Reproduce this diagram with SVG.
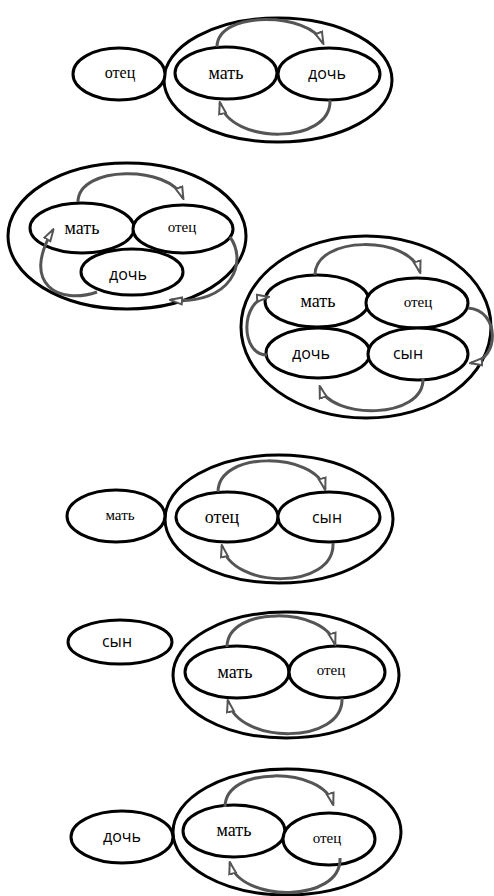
<svg xmlns="http://www.w3.org/2000/svg" width="494" height="896" viewBox="0 0 494 896">
  <style>
    .node { fill: #fff; stroke: #000; stroke-width: 3; }
    .group { fill: none; stroke: #000; stroke-width: 3; }
    .arrow { fill: none; stroke: #555; stroke-width: 3; marker-end: url(#head); }
    .serif { font-family: "Liberation Serif", "Times New Roman", serif; fill: #000; text-anchor: middle; }
    .sans { font-family: "Open Sans", "Liberation Sans", sans-serif; font-weight: 500; fill: #000; text-anchor: middle; }
    .big { font-size: 18px; }
    .small { font-size: 15px; }
    .s15 { font-size: 16px; }
  </style>
  <defs>
    <marker id="head" viewBox="0 0 14 10" refX="12" refY="5" markerWidth="14" markerHeight="10" markerUnits="userSpaceOnUse" orient="auto">
      <path d="M1,1.5 L13,5 L1,8.5 Z" fill="#fff" stroke="#555" stroke-width="2" stroke-linejoin="miter"/>
    </marker>
  </defs>
  <rect width="494" height="896" fill="#fff"/>

  <!-- family 1: отец outside; мать, дочь inside -->
  <g id="g1-outer"><ellipse class="group" cx="278" cy="80" rx="114" ry="62"/></g>
  <g id="g1-otec"><ellipse class="node" cx="119" cy="74" rx="46" ry="26"/><text class="serif small" x="120" y="78" style="font-size:16px">отец</text></g>
  <g id="g1-mat"><ellipse class="node" cx="226" cy="73" rx="51" ry="26"/><text class="serif big" x="226" y="79">мать</text></g>
  <g id="g1-doch"><ellipse class="node" cx="329" cy="74" rx="51" ry="26"/><text class="sans s15" x="327" y="79">дочь</text></g>

  <!-- family 2: мать, отец, дочь -->
  <g id="g2-outer"><ellipse class="group" cx="127" cy="236" rx="119" ry="73"/></g>
  <g id="g2-mat"><ellipse class="node" cx="82" cy="228" rx="52" ry="25"/><text class="serif big" x="82" y="234">мать</text></g>
  <g id="g2-otec"><ellipse class="node" cx="183" cy="229" rx="50" ry="24"/><text class="serif small" x="182" y="232">отец</text></g>
  <g id="g2-doch"><ellipse class="node" cx="132" cy="272" rx="51" ry="23"/><text class="sans s15" x="128" y="280">дочь</text></g>

  <!-- family 3: мать, отец, дочь, сын -->
  <g id="g3-outer"><ellipse class="group" cx="366" cy="327" rx="125" ry="91"/></g>
  <g id="g3-mat"><ellipse class="node" cx="317" cy="301" rx="52" ry="26"/><text class="serif big" x="318" y="307">мать</text></g>
  <g id="g3-otec"><ellipse class="node" cx="417" cy="303" rx="51" ry="25"/><text class="serif small" x="418" y="307">отец</text></g>
  <g id="g3-doch"><ellipse class="node" cx="318" cy="353" rx="52" ry="25"/><text class="sans s15" x="311" y="359">дочь</text></g>
  <g id="g3-syn"><ellipse class="node" cx="418" cy="354" rx="50" ry="26"/><text class="sans s15" x="408" y="359">сын</text></g>

  <!-- family 4: мать outside; отец, сын inside -->
  <g id="g4-outer"><ellipse class="group" cx="279" cy="519" rx="114" ry="64"/></g>
  <g id="g4-mat"><ellipse class="node" cx="116" cy="516" rx="49" ry="26"/><text class="serif small" x="120" y="520">мать</text></g>
  <g id="g4-otec"><ellipse class="node" cx="227" cy="517" rx="51" ry="25"/><text class="serif big" x="222" y="523">отец</text></g>
  <g id="g4-syn"><ellipse class="node" cx="329" cy="517" rx="51" ry="25"/><text class="sans s15" x="327" y="523">сын</text></g>

  <!-- family 5: сын outside; мать, отец inside -->
  <g id="g5-outer"><ellipse class="group" cx="286" cy="675" rx="113" ry="63"/></g>
  <g id="g5-syn"><ellipse class="node" cx="120" cy="642" rx="52" ry="22"/><text class="sans s15" x="117" y="647">сын</text></g>
  <g id="g5-mat"><ellipse class="node" cx="237" cy="672" rx="52" ry="26"/><text class="serif big" x="235" y="678">мать</text></g>
  <g id="g5-otec"><ellipse class="node" cx="337" cy="672" rx="48" ry="26"/><text class="serif small" x="331" y="675">отец</text></g>

  <!-- family 6: дочь outside; мать, отец inside -->
  <g id="g6-outer"><ellipse class="group" cx="287" cy="832" rx="114" ry="63"/></g>
  <g id="g6-doch"><ellipse class="node" cx="122" cy="837" rx="51" ry="26"/><text class="sans s15" x="122" y="842">дочь</text></g>
  <g id="g6-mat"><ellipse class="node" cx="234" cy="831" rx="51" ry="26"/><text class="serif big" x="234" y="836">мать</text></g>
  <g id="g6-otec"><ellipse class="node" cx="329" cy="839" rx="46" ry="26"/><text class="serif small" x="327" y="843">отец</text></g>

  <!-- connectors -->
  <g id="connectors">
    <path class="arrow" d="M217,47 C217,10 310,12 323,43"/>
    <path class="arrow" d="M330,100 C332,145 230,145 220,103"/>

    <path class="arrow" d="M78,202 C78,165 170,165 183,198"/>
    <path class="arrow" d="M230,237 C248,262 232,305 171,300"/>
    <path class="arrow" d="M97,292 C60,305 20,285 53,230"/>

    <path class="arrow" d="M315,275 C315,235 410,235 420,272"/>
    <path class="arrow" d="M468,308 C500,310 500,360 471,363"/>
    <path class="arrow" d="M423,378 C425,420 330,420 320,387"/>
    <path class="arrow" d="M267,355 C240,355 240,300 268,297"/>

    <path class="arrow" d="M218,492 C218,450 315,452 325,489"/>
    <path class="arrow" d="M333,543 C335,590 232,590 222,546"/>

    <path class="arrow" d="M227,647 C227,605 325,607 335,644"/>
    <path class="arrow" d="M342,698 C344,745 238,745 228,701"/>

    <path class="arrow" d="M225,807 C225,765 323,767 333,804"/>
    <path class="arrow" d="M340,858 C342,903 240,903 230,863"/>
  </g>
</svg>
